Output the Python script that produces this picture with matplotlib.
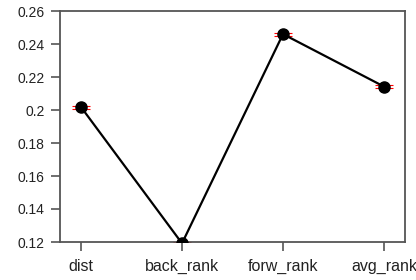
import matplotlib
matplotlib.use("Agg")
import matplotlib.pyplot as plt

categories = ["dist", "back_rank", "forw_rank", "avg_rank"]
values = [0.2018, 0.1192, 0.2460, 0.2142]
errors = [0.0009, 0.0009, 0.0009, 0.0009]

plt.rcParams['font.family'] = ['Liberation Sans', 'DejaVu Sans']

fig = plt.figure(figsize=(4.16, 2.80), dpi=100)
ax = fig.add_axes([60/416, 1 - 242/280, (405-60)/416, (242-11)/280])

x = list(range(1, len(categories) + 1))
ax.errorbar(x, values, yerr=errors, fmt='none', ecolor='red', elinewidth=0.8,
            capsize=6.8, capthick=0.8, zorder=2)
ax.plot(x, values, color='black', lw=1.6, zorder=3)
ax.plot(x, values, 'o', color='black', ms=8, zorder=4)

ax.set_xlim(0.792, 4.208)
ax.set_ylim(0.12, 0.26)
ax.set_xticks(x)
ax.set_xticklabels(categories)
yt = [0.12, 0.14, 0.16, 0.18, 0.2, 0.22, 0.24, 0.26]
ax.set_yticks(yt)
ax.set_yticklabels(["%g" % v for v in yt])

for s in ax.spines.values():
    s.set_color('#555555')
    s.set_linewidth(1.3)
ax.tick_params(axis='both', direction='out', length=6.5, width=1.2, color='#555555',
               labelcolor='#222222')
ax.tick_params(axis='y', labelsize=10, pad=4.5)
ax.tick_params(axis='x', labelsize=11.5, pad=5.5)

fig.savefig("out.png", dpi=100)
